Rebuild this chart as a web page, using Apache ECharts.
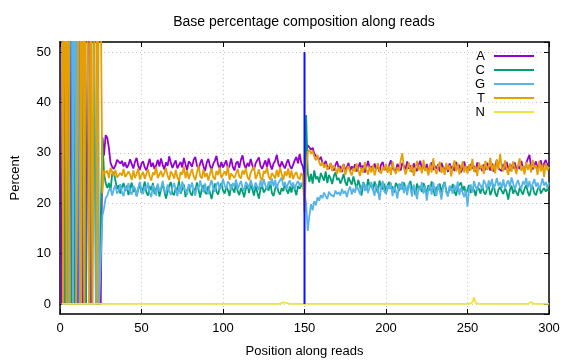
<!DOCTYPE html>
<html><head><meta charset="utf-8">
<script src="https://cdn.jsdelivr.net/npm/echarts@6/dist/echarts.min.js"></script>
<style>html,body{margin:0;padding:0;background:#fff}#c{width:576px;height:360px}</style>
</head><body><div id="c"></div><script>
const seriesNames = ['A', 'C', 'G', 'T', 'N'];
const seriesColors = ['#9400d3', '#009e73', '#56b4e9', '#e69f00', '#f0e442'];
const xTickValues = [0, 50, 100, 150, 200, 250, 300];
const yTickValues = [0, 10, 20, 30, 40, 50];

const A = [
0,100,0,0,0,100,0,0,0,100,
0,0,100,0,0,0,0,100,0,0,
0,0,0,0,0,33,29.5,33.5,33,31,
28.0,27.2,26.8,27.5,28.6,28.9,27.9,28.4,27.3,28.1,
27.0,27.6,28.7,27.8,26.9,28.2,29.0,27.4,26.6,27.9,
28.3,27.1,26.5,27.7,28.8,27.2,28.0,26.8,27.5,28.6,
27.3,28.9,27.6,26.7,28.1,27.4,29.3,28.0,27.0,27.8,
28.5,26.9,27.6,28.2,27.1,29.0,27.7,26.6,28.3,27.9,
27.2,28.6,29.2,27.5,26.8,27.9,28.7,27.3,26.4,28.0,
28.8,27.4,26.7,27.8,28.4,29.4,27.6,26.9,28.2,27.1,
27.8,28.5,26.8,27.4,28.9,27.2,26.5,27.9,28.3,27.0,
28.6,29.5,27.7,26.9,28.0,27.3,28.8,27.5,26.6,27.9,
28.2,29.1,27.4,26.8,27.7,28.5,27.0,28.9,27.6,26.7,
27.9,28.4,29.6,27.8,27.1,28.3,27.5,26.9,28.0,28.7,
27.4,26.8,27.6,28.5,29.2,27.9,29.8,28.0,27.3,25.5,
30.2,31.5,31.2,30.6,31.0,29.8,30.1,29.0,28.6,29.2,
28.1,27.5,28.4,27.2,26.8,27.9,27.0,26.5,27.6,28.3,
26.9,27.4,26.2,27.8,26.6,27.1,28.0,26.4,27.3,26.8,
27.7,26.3,27.0,28.1,26.7,27.5,26.1,27.2,28.4,26.9,
27.3,26.5,27.9,26.8,27.4,26.2,27.7,28.2,26.6,27.0,
26.4,27.6,28.5,26.9,27.2,26.3,27.8,27.1,26.5,28.0,
27.4,26.7,28.3,26.8,27.5,26.2,27.9,27.0,26.4,27.6,
28.4,26.9,27.3,26.5,27.8,26.1,27.2,28.1,26.6,27.4,
26.8,27.7,26.3,28.0,27.1,26.6,27.5,26.2,27.9,26.9,
27.3,26.4,28.2,26.8,27.6,26.1,27.0,28.3,26.7,27.2,
26.5,27.8,26.9,27.4,26.2,28.1,26.8,27.3,26.4,27.7,
26.6,28.0,27.2,26.5,27.9,26.3,27.4,28.6,26.9,27.1,
26.4,27.8,26.7,28.2,27.0,26.5,27.6,26.9,28.1,26.6,
27.3,26.8,28.4,27.1,26.5,27.9,28.8,29.6,27.2,26.7,
27.5,28.3,26.9,27.7,28.5,26.8,27.9,28.6,27.4,28.1
];

const C = [
0,0,0,100,0,0,0,100,0,0,
0,0,0,0,100,0,0,0,0,100,
100,0,0,0,0,33,26,24,23,24,
22.5,25.8,26.2,24.5,22.8,23.6,21.9,23.2,24.0,22.4,
23.5,21.6,22.8,24.1,22.2,23.0,21.4,22.7,23.9,22.0,
22.9,24.3,22.1,21.5,23.4,22.6,24.0,21.8,22.9,23.6,
21.3,22.7,23.8,22.4,20.9,22.2,23.5,24.2,22.0,21.6,
23.1,22.5,24.4,21.9,22.8,23.7,21.2,22.6,23.3,22.0,
21.5,23.0,22.4,24.1,22.7,21.1,22.9,23.6,22.2,21.8,
23.4,22.1,20.8,22.6,23.9,22.3,21.7,23.2,24.0,22.5,
21.9,23.3,22.6,21.4,23.7,22.8,22.1,24.2,22.4,21.6,
23.0,22.3,21.2,22.9,23.6,22.0,24.1,22.7,21.5,23.4,
22.2,20.9,22.8,23.5,22.1,21.8,23.2,22.5,24.3,22.0,
21.4,22.9,23.7,22.3,21.7,23.0,22.4,24.0,22.6,21.9,
23.3,22.1,23.8,22.7,21.6,23.4,22.9,23.5,24.0,23.0,
37.5,26.0,24.2,25.8,23.9,26.5,24.8,25.3,24.1,26.0,
25.2,24.5,26.3,24.0,25.6,24.9,23.8,25.4,26.1,24.6,
25.0,23.9,24.7,25.8,24.2,23.5,25.1,24.4,23.7,25.3,
24.0,22.8,24.6,23.5,21.5,24.2,23.9,22.6,24.8,23.2,
23.8,22.5,24.3,23.1,22.0,24.5,23.4,22.7,23.9,21.8,
23.6,24.2,22.9,23.3,22.1,24.0,23.5,22.4,23.8,22.7,
24.1,23.0,22.3,23.7,24.4,22.6,23.2,21.6,23.9,22.8,
23.4,22.2,24.0,23.1,21.9,23.6,22.5,24.3,22.8,21.4,
23.3,22.7,23.9,22.1,23.5,24.2,22.4,21.7,23.0,22.6,
23.8,22.3,21.5,23.2,22.9,24.1,22.5,23.4,21.8,22.7,
23.6,22.0,23.1,22.6,21.4,23.3,22.8,21.9,23.5,22.2,
21.7,22.9,23.4,21.6,22.5,23.8,22.0,21.3,22.7,23.2,
22.4,21.8,23.0,22.3,20.7,22.6,23.5,21.9,22.8,22.1,
21.5,23.1,22.4,21.7,22.9,23.6,22.2,21.4,22.8,23.3,
22.0,21.6,22.7,23.4,21.9,22.5,23.0,22.3,22.8,22.4
];

const G = [
0,0,0,0,0,0,100,0,100,0,
100,0,0,0,0,0,0,0,0,0,
0,0,100,0,0,17.5,19,21,21.5,22.5,
23.0,21.5,22.8,23.6,21.9,22.4,23.8,22.1,21.4,23.3,
22.6,24.0,22.2,21.7,23.5,22.9,21.3,23.1,24.2,22.5,
21.8,23.4,22.7,24.1,22.0,21.2,23.6,22.8,21.5,23.9,
22.3,23.0,24.4,22.6,21.9,23.7,22.4,21.6,23.2,24.0,
22.7,21.4,23.5,22.1,24.3,23.0,22.5,21.7,23.8,22.9,
24.1,22.6,21.5,23.3,22.8,24.5,23.1,22.2,23.9,22.4,
21.8,23.6,24.6,22.9,22.3,23.7,24.2,22.7,23.4,24.8,
23.5,22.9,24.3,23.8,22.6,24.0,23.3,24.7,22.8,23.6,
24.4,23.1,22.5,24.2,23.7,22.9,24.6,23.4,22.7,24.1,
23.9,22.6,24.5,23.2,24.8,23.5,22.8,24.3,23.6,24.9,
23.3,24.6,22.9,24.0,23.7,25.1,23.4,24.2,22.8,23.9,
24.5,23.2,24.1,22.7,23.8,24.4,23.5,24.0,23.6,22.0,
20.0,14.5,17.5,19.8,18.6,20.4,19.6,21.2,20.5,21.6,
21.0,22.1,21.4,20.8,22.3,21.7,22.0,21.3,22.5,21.8,
22.2,21.5,22.8,21.9,22.4,21.2,22.6,23.3,21.7,22.9,
22.1,23.5,22.7,21.8,23.2,24.0,22.4,23.7,22.0,23.4,
24.2,22.6,21.5,23.8,22.9,20.6,23.1,24.4,22.3,21.9,
23.6,22.8,24.1,21.4,23.3,22.5,20.9,23.9,22.7,24.3,
22.0,23.5,21.6,24.0,22.9,21.3,23.7,22.4,20.8,23.1,
22.6,24.2,21.9,23.4,20.5,22.8,23.6,21.7,24.1,22.3,
21.5,23.8,22.5,20.7,23.2,24.0,22.1,21.3,23.5,22.8,
21.9,23.6,22.4,24.3,21.6,23.0,22.7,21.2,22.5,19.3,
22.9,23.7,22.1,24.4,23.2,22.6,24.1,23.5,22.8,24.6,
23.9,22.7,24.5,23.3,24.8,22.9,23.6,25.0,23.4,24.2,
23.0,24.7,22.8,23.9,24.5,23.2,25.1,24.0,22.6,23.8,
24.6,23.4,22.9,24.3,23.7,25.0,23.1,24.4,22.7,23.9,
24.8,23.3,24.1,22.8,23.6,24.9,23.5,24.2,23.0,24.1
];

const T = [
100,0,100,0,100,0,0,0,0,0,
0,100,0,100,0,100,100,0,100,0,
0,100,0,100,100,22,26.5,26,26.5,25,
27.0,26.2,25.4,26.6,25.1,24.8,26.0,25.5,26.8,25.2,
24.9,26.3,25.7,24.6,26.5,25.0,25.8,26.9,24.7,25.6,
26.2,24.8,25.9,26.7,25.3,24.5,26.1,25.6,27.2,25.0,
24.7,26.4,25.2,26.0,27.0,25.5,24.6,26.3,25.8,24.9,
26.6,25.1,24.4,26.2,25.7,27.3,25.0,26.5,24.8,25.9,
26.8,25.3,24.6,26.1,27.5,25.4,24.9,26.7,25.2,26.0,
24.5,25.8,26.9,25.1,24.7,26.4,25.6,27.1,25.0,24.8,
26.3,25.5,27.4,24.6,25.9,26.2,25.0,24.7,26.8,25.3,
24.9,26.5,25.7,27.0,25.2,24.6,26.1,25.8,27.3,24.8,
25.6,26.7,25.1,24.5,26.4,25.9,27.2,25.3,24.7,26.0,
25.5,24.9,26.6,25.2,27.1,25.8,24.6,26.3,25.4,26.9,
25.0,26.5,24.8,25.7,26.2,25.1,24.7,26.0,25.4,18.2,
26.5,30.2,30.6,29.8,30.4,29.2,28.5,29.6,28.1,27.4,
28.2,27.0,27.8,26.6,27.3,28.0,26.4,27.5,26.9,25.8,
27.2,26.1,26.8,27.7,25.6,26.9,27.4,26.2,25.5,27.0,
26.3,27.9,26.6,25.4,27.1,26.0,28.2,26.7,25.7,27.3,
26.1,27.6,25.5,26.8,28.0,26.4,25.9,27.2,26.5,27.8,
26.0,27.4,25.6,28.3,26.7,25.8,27.1,26.3,28.5,29.9,
27.0,25.7,26.9,28.1,26.2,27.5,25.4,26.8,28.4,26.5,
27.3,25.9,28.6,26.4,27.0,25.5,27.8,26.1,28.9,26.7,
25.8,27.4,28.2,26.0,27.1,25.6,28.0,26.6,27.5,25.3,
27.2,28.5,26.3,27.9,25.7,26.8,28.3,26.1,27.4,25.9,
27.7,26.5,28.8,26.2,27.3,25.4,28.1,26.9,27.6,25.8,
28.4,26.6,27.2,29.0,26.4,27.8,25.9,28.7,26.7,29.8,
27.1,26.3,28.5,26.8,25.6,27.9,26.2,28.3,27.0,25.8,
27.6,28.9,26.4,27.3,25.7,28.2,26.6,27.8,26.1,28.6,
26.9,27.5,25.6,28.4,26.3,27.7,25.2,28.0,26.5,27.2
];

const N = [
0,0,0,0,0,0,0,0,0,0,
0,0,0,0,0,0,0,0,0,0,
0,0,0,0,0,0,0,0,0,0,
0,0,0,0,0,0,0,0,0,0,
0,0,0,0,0,0,0,0,0,0,
0,0,0,0,0,0,0,0,0,0,
0,0,0,0,0,0,0,0,0,0,
0,0,0,0,0,0,0,0,0,0,
0,0,0,0,0,0,0,0,0,0,
0,0,0,0,0,0,0,0,0,0,
0,0,0,0,0,0.2,0,0,0,0,
0,0,0,0,0,0,0,0,0,0,
0,0,0,0,0,0,0,0,0,0,
0,0,0,0,0,0,0.3,0.5,0.2,0,
0,0,0,0,0,0,0,0,0,0,
0,0,0,0,0,0,0,0,0,0,
0,0,0,0,0,0,0,0,0,0,
0,0,0,0,0,0,0,0,0,0,
0,0,0,0,0,0,0,0,0,0,
0,0,0,0,0,0,0,0,0,0,
0,0,0,0,0,0,0,0,0,0,
0,0,0,0,0,0,0,0,0,0,
0,0,0,0,0,0,0,0,0,0,
0,0,0,0,0,0,0,0,0,0,
0,0,0,0,0,0,0,0,0,0,
0,0,0.3,1.3,0.2,0,0,0,0,0,
0,0,0,0,0,0,0,0,0,0,
0,0,0,0,0,0,0,0,0,0,
0,0,0,0,0,0,0,0.3,0.4,0.2,
0,0,0,0,0,0,0,0,0,0
];

const boundaryX = [150, 150];
const boundaryY = [0, 50];

const seriesValues = [A, C, G, T, N];
const FONT = 'Liberation Sans';
const toPairs = vals => vals.map((v, i) => [i + 1, v]);

const chart = echarts.init(document.getElementById('c'), null, {renderer: 'canvas'});

const frameLine = {show: true, onZero: false, lineStyle: {color: '#000', width: 1.5}};
const innerTick = {show: true, inside: true, length: 5, lineStyle: {color: '#000', width: 1}};
const gridLine = {show: true, lineStyle: {color: '#c8c8c8', type: [1, 3], width: 1}};

const axisCommonX = {type: 'value', min: 0, max: 300, interval: 50, axisLine: frameLine, axisTick: innerTick};
const axisCommonY = {type: 'value', min: -2, max: 52, splitNumber: 5, axisLine: frameLine, axisTick: innerTick};

const series = seriesNames.map((name, k) => ({
  name: name, type: 'line', xAxisIndex: 0, yAxisIndex: 0,
  data: toPairs(seriesValues[k]),
  symbol: 'none', showSymbol: false, animation: false,
  lineStyle: {color: seriesColors[k], width: 1.8},
  itemStyle: {color: seriesColors[k]},
  z: 2 + k
}));
series.push({
  name: 'boundary', type: 'line', xAxisIndex: 0, yAxisIndex: 0,
  data: boundaryX.map((x, i) => [x, boundaryY[i]]),
  symbol: 'none', animation: false,
  lineStyle: {color: '#1010ff', width: 2}, z: 10
});

chart.setOption({
  animation: false,
  backgroundColor: '#fff',
  textStyle: {fontFamily: FONT},
  title: {
    text: 'Base percentage composition along reads',
    left: 299, top: 10, textAlign: 'center',
    textStyle: {fontFamily: FONT, fontSize: 14, fontWeight: 'normal', color: '#000'}
  },
  grid: {left: 60, right: 27, top: 42, bottom: 46, containLabel: false, outerBoundsMode: 'none'},
  legend: {
    data: seriesNames,
    orient: 'vertical', align: 'right',
    right: 37, top: 44,
    icon: 'rect',
    itemWidth: 40, itemHeight: 2, itemGap: 0,
    textStyle: {fontFamily: FONT, fontSize: 13, lineHeight: 14, color: '#000', padding: [0, 4, 0, 0]}
  },
  xAxis: [
    Object.assign({}, axisCommonX, {
      position: 'bottom',
      name: 'Position along reads', nameLocation: 'middle', nameGap: 31,
      nameTextStyle: {fontFamily: FONT, fontSize: 13, color: '#000'},
      axisLabel: {show: true, margin: 8, fontFamily: FONT, fontSize: 13, color: '#000',
        formatter: v => (xTickValues.indexOf(v) >= 0 ? String(v) : '')},
      splitLine: gridLine
    }),
    Object.assign({}, axisCommonX, {
      position: 'top', axisLabel: {show: false}, splitLine: {show: false}
    })
  ],
  yAxis: [
    Object.assign({}, axisCommonY, {
      position: 'left',
      name: 'Percent', nameLocation: 'middle', nameGap: 38, nameRotate: 90,
      nameTextStyle: {fontFamily: FONT, fontSize: 13, color: '#000'},
      axisLabel: {show: true, margin: 9, fontFamily: FONT, fontSize: 13, color: '#000',
        showMinLabel: false, showMaxLabel: false,
        formatter: v => (yTickValues.indexOf(v) >= 0 ? String(v) : '')},
      splitLine: gridLine
    }),
    Object.assign({}, axisCommonY, {
      position: 'right', axisLabel: {show: false}, splitLine: {show: false}
    })
  ],
  series: series
});
</script></body></html>
